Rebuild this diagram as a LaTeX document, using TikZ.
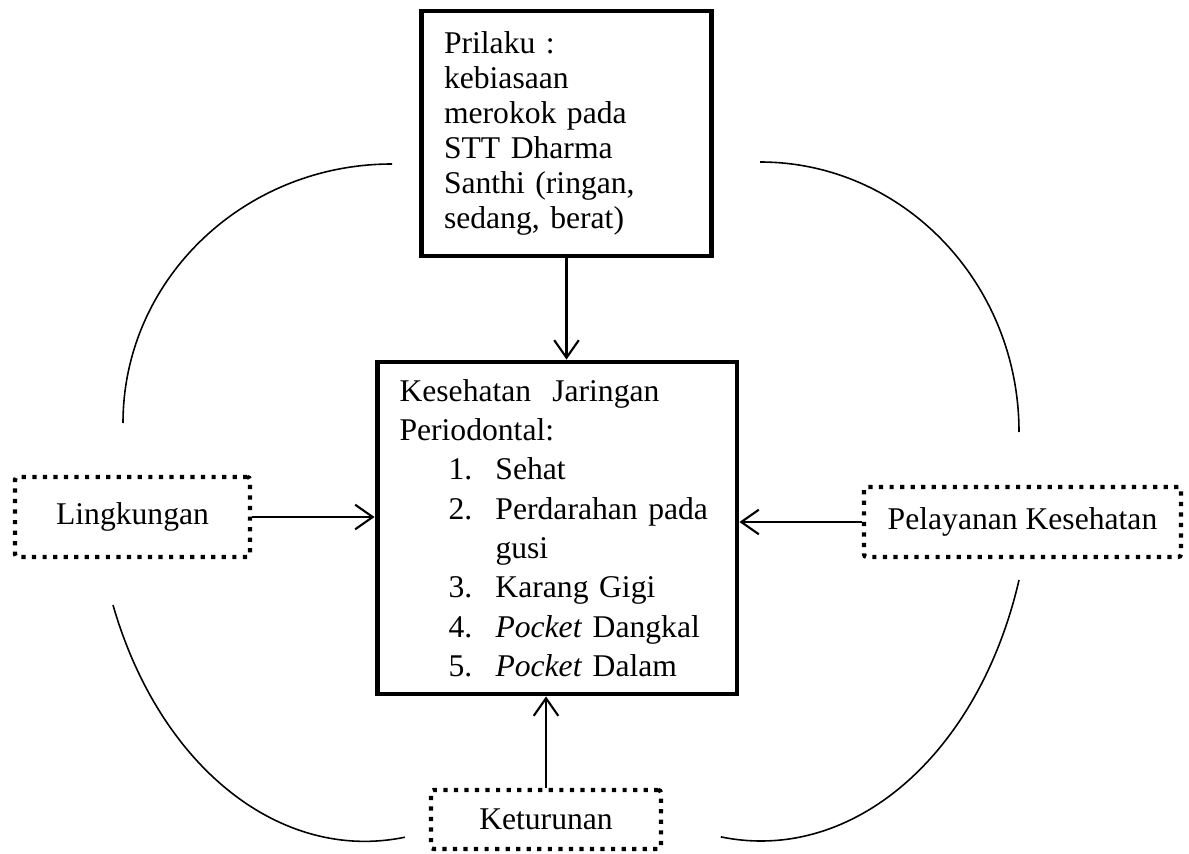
\documentclass[tikz,border=0pt]{standalone}
\usepackage{fontspec}
\setmainfont{Liberation Serif}
\usetikzlibrary{arrows.meta,calc}
\tikzstyle{thickbox}=[rectangle,draw,line width=2.8pt,align=left,inner xsep=0.45cm,inner ysep=0pt]
\tikzstyle{dotbox}=[rectangle,draw,line width=2.4pt,dash pattern=on 2.4pt off 3.6pt,rounded corners=1.5pt,inner sep=0pt]
\tikzstyle{link}=[line width=1.2pt,-{Straight Barb[length=10pt,width=14pt]}]
\tikzstyle{curveline}=[line width=0.9pt]
\newcommand{\nomor}[2]{\hspace*{0.98cm}\makebox[0.94cm][l]{#1}#2}

\begin{document}
\begin{tikzpicture}[x=0.02cm, y=0.02cm, font=\fontsize{18}{20}\selectfont]
    \useasboundingbox (0,0) rectangle (1189,-854);

    \node[thickbox, minimum width=5.8cm, minimum height=4.9cm, text width=4.9cm,
          font=\fontsize{18}{20}\selectfont] (perilaku) at (566.5,-133.5)
        {Prilaku :\\ kebiasaan\\ merokok pada\\ STT Dharma\\ Santhi (ringan,\\ sedang, berat)};
    \node[thickbox, minimum width=7.2cm, minimum height=6.64cm, text width=6.3cm,
          font=\fontsize{18}{22.4}\selectfont] (kesehatan) at (557,-528)
        {Kesehatan\ \ Jaringan\\ Periodontal:\\
         \nomor{1.}{Sehat}\\
         \nomor{2.}{Perdarahan pada}\\
         \hspace*{1.92cm}gusi\\
         \nomor{3.}{Karang Gigi}\\
         \nomor{4.}{\textit{Pocket} Dangkal}\\
         \nomor{5.}{\textit{Pocket} Dalam}};

    \foreach \pos/\name/\txt/\bw/\bh in {{(132.5,-517)/lingkungan/Lingkungan/4.7cm/1.6cm},
                                       {(1022.5,-522)/pelayanan/Pelayanan Kesehatan/6.34cm/1.4cm},
                                       {(546,-819.5)/keturunan/Keturunan/4.6cm/1.18cm}}
        \node[dotbox, minimum width=\bw, minimum height=\bh] (\name) at \pos {\txt};

    \draw[link] (perilaku.south) -- (perilaku.south |- kesehatan.north);
    \draw[link] (lingkungan.east) -- (lingkungan.east -| kesehatan.west);
    \draw[link] (pelayanan.west) -- (pelayanan.west -| kesehatan.east);
    \draw[link] (keturunan.north) -- (keturunan.north |- kesehatan.south);

    % lengkungan
    \draw[curveline] (392,-164) arc[start angle=90, end angle=180, x radius=269, y radius=259];
    \draw[curveline] (760,-162) arc[start angle=90, end angle=0, x radius=259, y radius=270];
    \draw[curveline] (113,-605) arc[start angle=201.7, end angle=278.5, x radius=271, y radius=375];
    \draw[curveline] (1019,-580) arc[start angle=-17.7, end angle=-98.5, x radius=271, y radius=375];

\end{tikzpicture}
\end{document}
